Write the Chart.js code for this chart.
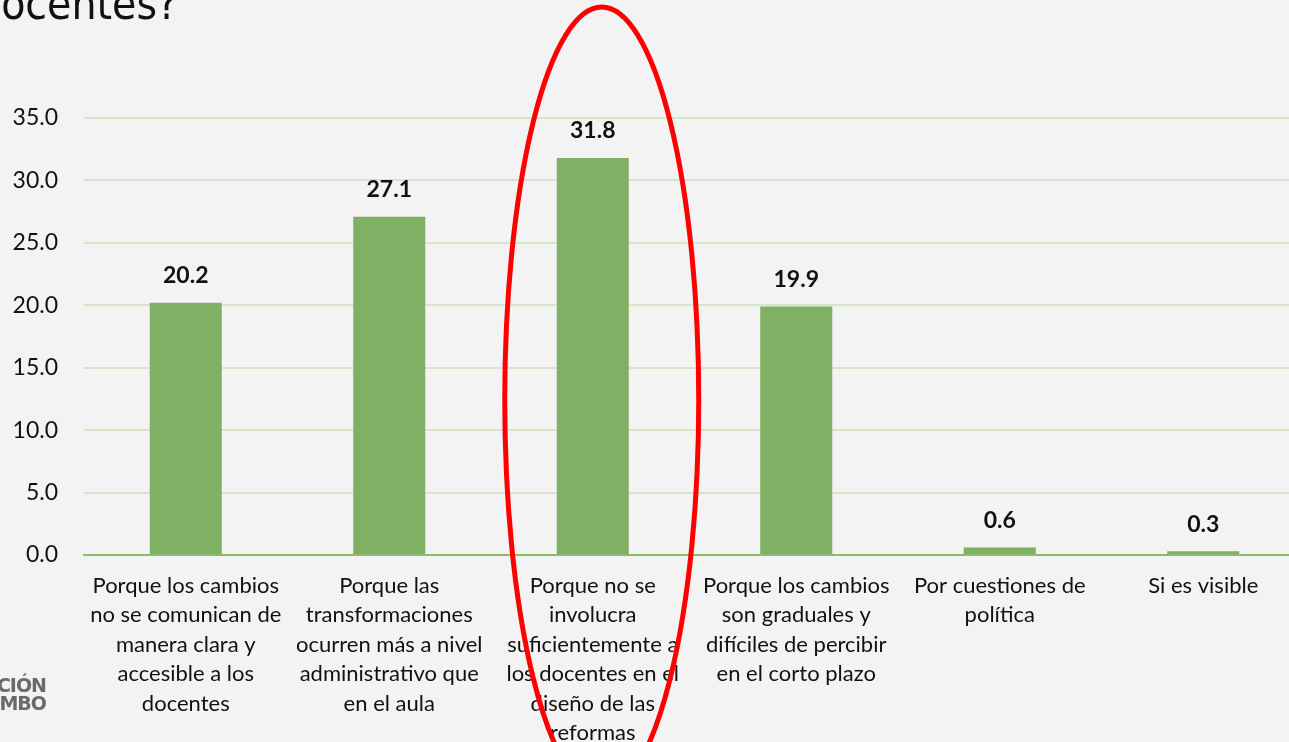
<!DOCTYPE html>
<html>
<head>
<meta charset="utf-8">
<script src="https://cdn.jsdelivr.net/npm/chart.js@4.4.1/dist/chart.umd.min.js"></script>
<style>
    html, body { margin: 0; padding: 0; background: #f3f3f3; overflow: hidden; }
    body { width: 1289px; height: 742px; position: relative; }
    #wrap { position: absolute; left: 0; top: 0; width: 1305px; height: 742px; }
    #title { position: absolute; left: -24px; top: -22px; font-family: "DejaVu Sans Condensed", "Roboto", sans-serif; font-size: 44px; color: #111; white-space: nowrap; }
    #logo { position: absolute; right: 1243px; top: 676px; font-family: "DejaVu Sans", sans-serif; font-weight: bold; font-size: 19px; line-height: 18px; color: #6a6a6a; text-align: right; white-space: nowrap; letter-spacing: -1px; }
</style>
</head>
<body>
<div id="wrap"><canvas id="chart" width="1305" height="742"></canvas></div>
<div id="title">docentes?</div>
<div id="logo">EDUCACIÓN<br>CON RUMBO</div>
<script>
const categories = [
    ['Porque los cambios', 'no se comunican de', 'manera clara y', 'accesible a los', 'docentes'],
    ['Porque las', 'transformaciones', 'ocurren más a nivel', 'administrativo que', 'en el aula'],
    ['Porque no se', 'involucra', 'suficientemente a', 'los docentes en el', 'diseño de las', 'reformas'],
    ['Porque los cambios', 'son graduales y', 'difíciles de percibir', 'en el corto plazo'],
    ['Por cuestiones de', 'política'],
    ['Si es visible']
];
const values = [20.2, 27.1, 31.8, 19.9, 0.6, 0.3];
const yTicks = [0, 5, 10, 15, 20, 25, 30, 35];

const FONT = 'Lato, "Open Sans", sans-serif';

// bold value labels above each bar
const valueLabels = {
    id: 'valueLabels',
    afterDatasetsDraw(chart) {
        const ctx = chart.ctx;
        const meta = chart.getDatasetMeta(0);
        ctx.save();
        ctx.font = 'bold 23px ' + FONT;
        ctx.fillStyle = '#111';
        ctx.textAlign = 'center';
        ctx.textBaseline = 'middle';
        meta.data.forEach((bar, i) => {
            ctx.fillText(values[i].toFixed(1), bar.x, bar.y - 27);
        });
        ctx.restore();
    }
};

// red hand-drawn highlight around the third category
const highlight = {
    id: 'highlight',
    afterDraw(chart) {
        const ctx = chart.ctx;
        const x = chart.scales.x.getPixelForValue(2) + 9;
        ctx.save();
        ctx.strokeStyle = '#ff0000';
        ctx.lineWidth = 5;
        ctx.beginPath();
        ctx.ellipse(x, 400, 97, 393, 0, 0, Math.PI * 2);
        ctx.stroke();
        ctx.restore();
    }
};

new Chart(document.getElementById('chart').getContext('2d'), {
    type: 'bar',
    data: {
        labels: categories,
        datasets: [{
            data: values,
            backgroundColor: '#80b063',
            barPercentage: 0.354,
            categoryPercentage: 1
        }]
    },
    options: {
        responsive: false,
        animation: false,
        layout: { padding: { top: 118, right: 0, left: 0, bottom: 0 } },
        plugins: {
            legend: { display: false },
            tooltip: { enabled: false }
        },
        scales: {
            x: {
                grid: { display: false, drawTicks: false },
                border: { color: '#8dbb6e', width: 2 },
                ticks: {
                    color: '#111',
                    font: { family: FONT, size: 22, lineHeight: 29.5 / 22 },
                    padding: 16,
                    maxRotation: 0,
                    autoSkip: false
                },
                afterFit(scale) { scale.height = 187; }
            },
            y: {
                min: 0,
                max: 35,
                afterBuildTicks(scale) { scale.ticks = yTicks.map(v => ({ value: v })); },
                grid: { color: '#d6e6cb', lineWidth: 2, drawTicks: false },
                border: { display: false },
                ticks: {
                    color: '#111',
                    font: { family: FONT, size: 23 },
                    padding: 26,
                    callback: v => v.toFixed(1)
                },
                afterFit(scale) { scale.width = 84; }
            }
        }
    },
    plugins: [valueLabels, highlight]
});
</script>
</body>
</html>
